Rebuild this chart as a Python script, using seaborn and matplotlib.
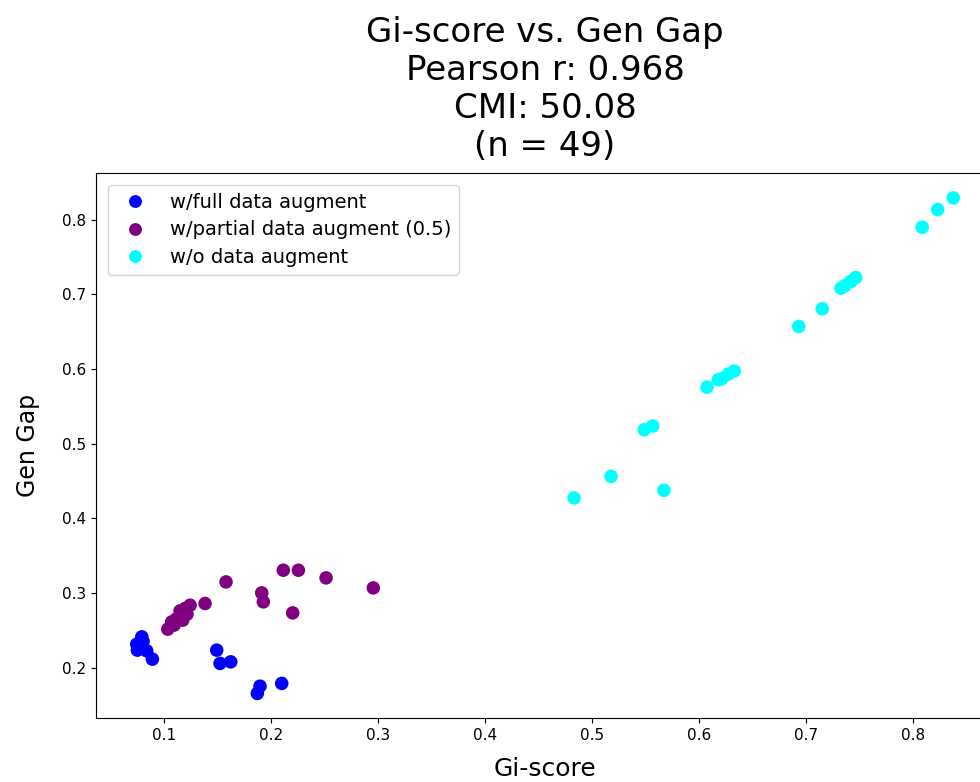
import matplotlib
matplotlib.use("Agg")
import matplotlib.pyplot as plt
import seaborn as sns
import pandas as pd

# Data
full_x = [0.0788, 0.0741, 0.0747, 0.0834, 0.0887, 0.0800,
          0.1489, 0.1520, 0.1620, 0.1894, 0.1869, 0.2097]
full_y = [0.2411, 0.2313, 0.2233, 0.2224, 0.2112, 0.2350,
          0.2233, 0.2055, 0.2076, 0.1750, 0.1653, 0.1787]

partial_x = [0.1031, 0.1068, 0.1109, 0.1146, 0.1171, 0.1193, 0.1240, 0.1380,
             0.1576, 0.1910, 0.1925, 0.2112, 0.2253, 0.2200, 0.2512, 0.2954,
             0.1090, 0.1211]
partial_y = [0.2514, 0.2612, 0.2648, 0.2759, 0.2635, 0.2791, 0.2835, 0.2858,
             0.3147, 0.3000, 0.2880, 0.3304, 0.3304, 0.2732, 0.3201, 0.3067,
             0.2568, 0.2715]

none_x = [0.8380, 0.8234, 0.8090, 0.7467, 0.7367, 0.7329, 0.7154, 0.6934,
          0.6331, 0.6275, 0.6213, 0.6182, 0.6076, 0.5568, 0.5489, 0.5178,
          0.5673, 0.4832, 0.7420]
none_y = [0.8293, 0.8137, 0.7900, 0.7226, 0.7119, 0.7083, 0.6807, 0.6570,
          0.5972, 0.5932, 0.5870, 0.5857, 0.5758, 0.5236, 0.5187, 0.4562,
          0.4375, 0.4272, 0.7172]

groups = ["w/full data augment", "w/partial data augment (0.5)", "w/o data augment"]
colors = ["#0000ff", "#800080", "#00ffff"]

df = pd.DataFrame({
    "Gi-score": full_x + partial_x + none_x,
    "Gen Gap": full_y + partial_y + none_y,
    "group": [groups[0]] * len(full_x) + [groups[1]] * len(partial_x) + [groups[2]] * len(none_x),
})

fig = plt.figure(figsize=(9.8, 7.82), dpi=100)
ax = fig.add_axes([0.0979, 0.0816, 0.9165, 0.697])

sns.scatterplot(data=df, x="Gi-score", y="Gen Gap", hue="group",
                hue_order=groups, palette=dict(zip(groups, colors)),
                s=95, linewidth=0, ax=ax)

handles, labels = ax.get_legend_handles_labels()
ax.legend(handles, labels, loc="upper left", fontsize=14, title=None,
          markerscale=0.95, labelspacing=0.45, borderaxespad=0.6)

ax.set_xticks([0.1, 0.2, 0.3, 0.4, 0.5, 0.6, 0.7, 0.8])
ax.set_yticks([0.2, 0.3, 0.4, 0.5, 0.6, 0.7, 0.8])
ax.tick_params(labelsize=11)
ax.set_xlabel("Gi-score", fontsize=18, labelpad=10)
ax.set_ylabel("Gen Gap", fontsize=17, labelpad=16)
ax.set_title("Gi-score vs. Gen Gap\nPearson r: 0.968\nCMI: 50.08\n(n = 49)",
             fontsize=24.5, pad=12)

fig.savefig("out.png", dpi=100)
